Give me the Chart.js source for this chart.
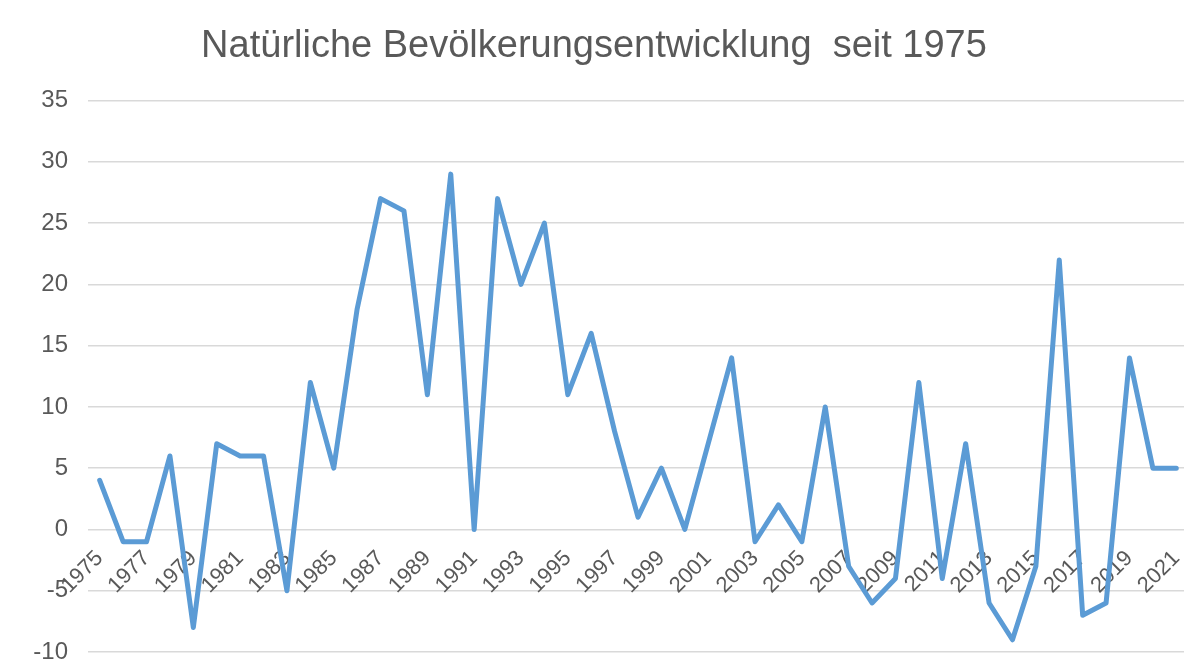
<!DOCTYPE html>
<html lang="de">
<head>
<meta charset="utf-8">
<title>Natürliche Bevölkerungsentwicklung seit 1975</title>
<script src="https://cdn.jsdelivr.net/npm/chart.js@4/dist/chart.umd.min.js"></script>
<style>
    html, body { margin: 0; padding: 0; background: #fff; overflow: hidden; }
    .wrap { position: relative; width: 1188px; height: 663px; }
</style>
</head>
<body>
<div class="wrap"><canvas id="bev-chart"></canvas></div>
<script>
    /* ── Daten ────────────────────────────────────────────────────────── */

    const YEARS = [
        '1975', '1976', '1977', '1978', '1979', '1980', '1981', '1982', '1983', '1984',
        '1985', '1986', '1987', '1988', '1989', '1990', '1991', '1992', '1993', '1994',
        '1995', '1996', '1997', '1998', '1999', '2000', '2001', '2002', '2003', '2004',
        '2005', '2006', '2007', '2008', '2009', '2010', '2011', '2012', '2013', '2014',
        '2015', '2016', '2017', '2018', '2019', '2020', '2021',
    ];

    const SALDO = [
         4, -1, -1,  6, -8,  7,  6,  6, -5, 12,
         5, 18, 27, 26, 11, 29,  0, 27, 20, 25,
        11, 16,  8,  1,  5,  0,  7, 14, -1,  2,
        -1, 10, -3, -6, -4, 12, -4,  7, -6, -9,
        -3, 22, -7, -6, 14,  5,  5,
    ];

    // only every second year gets a label on the axis
    const TICK_YEARS = [
        '1975', '1977', '1979', '1981', '1983', '1985', '1987', '1989', '1991', '1993',
        '1995', '1997', '1999', '2001', '2003', '2005', '2007', '2009', '2011', '2013',
        '2015', '2017', '2019', '2021',
    ];

    const TITLE = 'Natürliche Bevölkerungsentwicklung  seit 1975';

    /* ── Chart ────────────────────────────────────────────────────────── */

    const text = '#595959';
    const grid = '#d9d9d9';
    const font = "'Liberation Sans', Arial, sans-serif";

    new Chart(document.getElementById('bev-chart'), {
        type: 'line',
        data: {
            labels: YEARS,
            datasets: [{
                label: 'Saldo',
                data: SALDO,
                borderColor: '#5b9bd5',
                borderWidth: 5,
                borderJoinStyle: 'round',
                borderCapStyle: 'round',
                pointRadius: 0,
                tension: 0,
                fill: false,
            }],
        },
        options: {
            responsive: true,
            maintainAspectRatio: false,
            animation: false,
            layout: { padding: { left: 0, right: 0, top: 0, bottom: 11 } },
            plugins: {
                legend: { display: false },
                tooltip: { enabled: false },
                title: {
                    display: true,
                    text: TITLE,
                    color: text,
                    font: { family: font, size: 38, weight: 'normal' },
                    padding: { top: 24, bottom: 31 },
                },
            },
            scales: {
                x: {
                    type: 'category',
                    position: { y: 0 },
                    offset: true,
                    grid: { display: false, drawTicks: false },
                    border: { display: false },
                    ticks: {
                        autoSkip: false,
                        minRotation: 45,
                        maxRotation: 45,
                        padding: 16,
                        color: text,
                        font: { family: font, size: 22 },
                        callback: function (v) {
                            const lbl = this.getLabelForValue(v);
                            return TICK_YEARS.indexOf(lbl) !== -1 ? lbl : '';
                        },
                    },
                    afterFit: function (scale) {
                        scale.paddingLeft = 0;
                        scale.paddingRight = 0;
                    },
                },
                y: {
                    min: -10,
                    max: 35,
                    grid: { color: grid, lineWidth: 1.5, drawTicks: false },
                    border: { display: false },
                    ticks: {
                        stepSize: 5,
                        padding: 20,
                        color: text,
                        font: { family: font, size: 24 },
                    },
                    afterFit: function (scale) {
                        scale.width = 88;
                        scale.paddingTop = 0;
                        scale.paddingBottom = 0;
                    },
                },
            },
        },
    });
</script>
</body>
</html>
